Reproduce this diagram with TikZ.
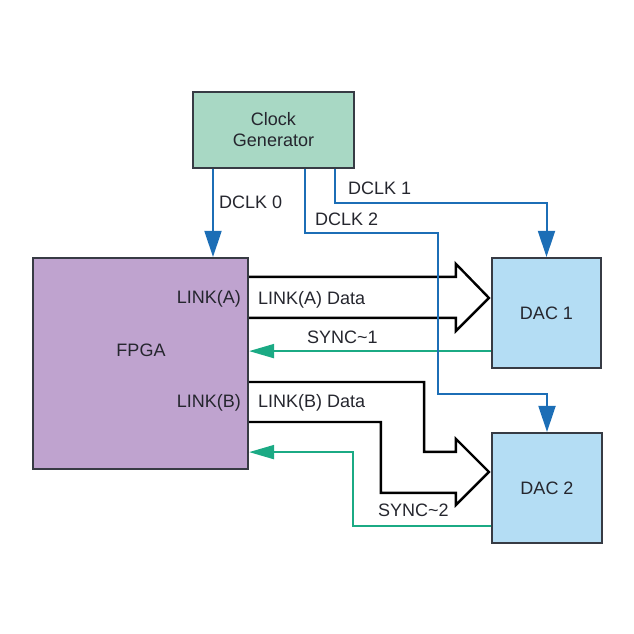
\documentclass[tikz,border=0pt]{standalone}
\usepackage{fontspec}
\setmainfont{Liberation Sans}
\usepackage{tikz}
\usetikzlibrary{arrows.meta, calc}
\definecolor{clkfill}{HTML}{A8D8C4}
\definecolor{fpgafill}{HTML}{BFA3CF}
\definecolor{dacfill}{HTML}{B4DDF4}
\definecolor{boxline}{HTML}{373B44}
\definecolor{clkblue}{HTML}{1C6EB6}
\definecolor{syncgreen}{HTML}{1BAA84}
\definecolor{txt}{HTML}{25262E}
\tikzset{
  block/.style={draw=boxline, line width=2.2pt, inner sep=0pt, align=center,
    font=\fontsize{18}{21}\selectfont, text=txt},
  lbl/.style={font=\fontsize{18}{21}\selectfont, text=txt, inner sep=0pt},
  clkline/.style={draw=clkblue, line width=2pt, -{Triangle[length=26pt, width=17pt]}},
  syncline/.style={draw=syncgreen, line width=2pt, -{Triangle[length=25pt, width=14pt]}},
  bus/.style={draw=black, line width=2.4pt, line join=miter},
}

\begin{document}
\begin{tikzpicture}[x=1pt, y=-1pt]
    \useasboundingbox (0,0) rectangle (634,634);
    % blocks
    \node[block, fill=clkfill, minimum width=161pt, minimum height=76pt] (clk) at (273.5,130) {Clock\\Generator};
    \node[block, fill=fpgafill, minimum width=215pt, minimum height=211pt] (fpga) at (140.5,363.5) {};
    \node[block, fill=dacfill, minimum width=109pt, minimum height=110pt] (dac1) at (546.5,313) {DAC 1};
    \node[block, fill=dacfill, minimum width=110pt, minimum height=110pt] (dac2) at (547,488) {DAC 2};
    \node[lbl, anchor=base] (fpganame) at (141,356) {FPGA};
    \node[lbl, anchor=base east] (linka) at (241,303.5) {LINK(A)};
    \node[lbl, anchor=base east] (linkb) at (241,407.5) {LINK(B)};

    % data buses
    \coordinate (ta) at ($(dac1.north west)+(-2,41)$);
    \coordinate (au) at ($(ta)+(-33,-21)$);
    \coordinate (al) at ($(ta)+(-33,20)$);
    \draw[bus] (fpga.east |- au) -- (au) -- ++(0,-13) -- (ta) -- ($(al)+(0,13)$) -- (al) -- (al -| fpga.east);
    \coordinate (tb) at ($(dac2.north west)+(-2,40)$);
    \coordinate (bu) at ($(tb)+(-33,-20)$);
    \coordinate (bl) at ($(tb)+(-33,21)$);
    \draw[bus] (fpga.east |- 0,382) -- ++(175,0) |- (bu) -- ++(0,-13) -- (tb) -- ($(bl)+(0,12)$) -- (bl) -- ++(-75,0) |- (fpga.east |- 0,422);
    \node[lbl, anchor=base west] (dataa) at (258,304.5) {LINK(A) Data};
    \node[lbl, anchor=base west] (datab) at (258,407.5) {LINK(B) Data};

    % sync lines
    \coordinate (s1) at ($(dac1.south west)+(0,-18)$);
    \draw[syncline] (s1) -- (s1 -| fpga.east);
    \coordinate (s2) at ($(dac2.south west)+(0,-18)$);
    \coordinate (s2in) at ($(fpga.south east)+(0,-18)$);
    \draw[syncline] (s2) -- ++(-138,0) |- (s2in);
    \node[lbl, anchor=base west] (sync1) at (307,343.5) {SYNC\textasciitilde 1};
    \node[lbl, anchor=base west] (sync2) at (378,516.5) {SYNC\textasciitilde 2};

    % clocks
    \coordinate (c0) at (213,0);
    \coordinate (c1) at (335,0);
    \coordinate (c2) at (305,0);
    \draw[clkline] (clk.south -| c0) -- (fpga.north -| c0);
    \draw[clkline] (clk.south -| c1) -- ++(0,34) -| (dac1.north);
    \draw[clkline] (clk.south -| c2) -- ++(0,64) -- ++(133,0) -- ++(0,161) -| (dac2.north);
    \node[lbl, anchor=base west] (dclk0) at (219,208) {DCLK 0};
    \node[lbl, anchor=base west] (dclk1) at (348,194) {DCLK 1};
    \node[lbl, anchor=base west] (dclk2) at (315,225) {DCLK 2};
\end{tikzpicture}
\end{document}
